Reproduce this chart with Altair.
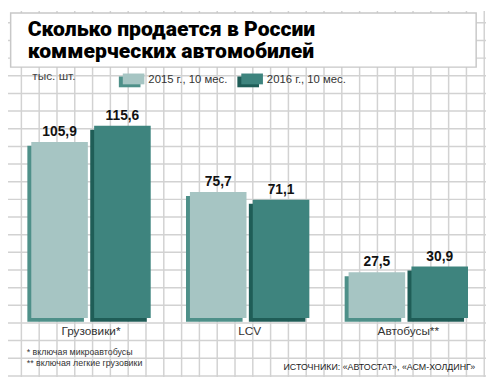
import altair as alt
import pandas as pd

# ---- data ----
categories = ["Грузовики*", "LCV", "Автобусы**"]
series = ["2015 г., 10 мес.", "2016 г., 10 мес."]
values_2015 = [105.9, 75.7, 27.5]
values_2016 = [115.6, 71.1, 30.9]
title_line1 = "Сколько продается в России"
title_line2 = "коммерческих автомобилей"
unit_label = "тыс. шт."
footnotes = ["* включая микроавтобусы", "** включая легкие грузовики"]
source_text = "ИСТОЧНИКИ: «АВТОСТАТ», «АСМ-ХОЛДИНГ»"
grid_cols = list(range(1, 28))
grid_rows = list(range(1, 22))

face_colors = ["#a6c5c3", "#3e847e"]
shadow_colors = ["#4e9089", "#1f5d57"]

rows = []
for s, vals in zip(series, [values_2015, values_2016]):
    for c, v in zip(categories, vals):
        rows.append({"cat": c, "series": s, "value": v,
                     "label": f"{v:.1f}".replace(".", ",")})
bars = pd.DataFrame(rows)

W, H = 486, 372
narrow = "Liberation Sans Narrow, Liberation Sans, sans-serif"

x_scale = alt.Scale(type="band", domain=categories, paddingInner=0.168, paddingOuter=0.0905, align=0.592)
xo_face = alt.Scale(type="band", domain=series, paddingInner=0.1, paddingOuter=0.1, align=0.5)
xo_shadow = alt.Scale(type="band", domain=series, paddingInner=0.1, paddingOuter=0.1, align=0.1875)
y_scale = alt.Scale(domain=[-35.5, 184.6], nice=False, zero=False)

base = alt.Chart(bars)
one = pd.DataFrame({"a": [0]})

# grid
vgrid = alt.Chart(pd.DataFrame({"k": grid_cols})).mark_rule(color="#d2d2d2", strokeWidth=1.5).encode(
    x=alt.X("k:Q", scale=alt.Scale(domain=[0.2486, 27.099], nice=False, zero=False), axis=None),
    y=alt.value(0), y2=alt.value(H))
hgrid = alt.Chart(pd.DataFrame({"j": grid_rows})).mark_rule(color="#d2d2d2", strokeWidth=1.5).encode(
    y=alt.Y("j:Q", scale=alt.Scale(domain=[0.3343, 21.058], nice=False, zero=False, reverse=True), axis=None),
    x=alt.value(0), x2=alt.value(W))

# title box
box = alt.Chart(one).mark_rect(fill="white", stroke="#c8c8c8", strokeWidth=1.5).encode(
    x=alt.value(2.7), x2=alt.value(476), y=alt.value(2), y2=alt.value(57))
title1 = alt.Chart(one).mark_text(
    text=title_line1, font="Roboto", fontWeight=900, fontSize=21.5,
    align="left", baseline="alphabetic", color="#000").encode(
    x=alt.value(20), y=alt.value(25))
title2 = alt.Chart(one).mark_text(
    text=title_line2, font="Roboto", fontWeight=900, fontSize=21.5,
    align="left", baseline="alphabetic", color="#000").encode(
    x=alt.value(20), y=alt.value(48))

unit = alt.Chart(one).mark_text(
    text=unit_label, font="Liberation Sans", fontSize=12, align="left",
    baseline="alphabetic", color="#444").encode(x=alt.value(24.7), y=alt.value(70))

# legend
leg_df = pd.DataFrame({"series": series})
leg_x = alt.X("series:N", scale=alt.Scale(type="point", domain=series, range=[127.7, 248.2], padding=0), axis=None)
rect_shape = "M-1,-0.5H1V0.5H-1Z"
leg_shadow = alt.Chart(leg_df).mark_point(shape=rect_shape, size=484, filled=True, opacity=1,
                                          strokeWidth=0, xOffset=-4, yOffset=3).encode(
    x=leg_x, y=alt.value(69),
    color=alt.Color("series:N", scale=alt.Scale(domain=series, range=shadow_colors), legend=None))
leg_face = alt.Chart(leg_df).mark_point(shape=rect_shape, size=484, filled=True, opacity=1,
                                        strokeWidth=0).encode(
    x=leg_x, y=alt.value(69),
    color=alt.Color("series:N", scale=alt.Scale(domain=series, range=face_colors), legend=None))
leg_text = alt.Chart(leg_df).mark_text(font=narrow, fontSize=11.5, align="left", baseline="middle",
                                       dx=15, color="#333").encode(
    x=leg_x, y=alt.value(70), text="series:N")

# bars
shadow = base.mark_bar(yOffset=4, y2Offset=4).encode(
    x=alt.X("cat:N", scale=x_scale, axis=None),
    xOffset=alt.XOffset("series:N", scale=xo_shadow),
    y=alt.Y("value:Q", scale=y_scale, axis=None), y2=alt.datum(0),
    color=alt.Color("series:N", scale=alt.Scale(domain=series, range=shadow_colors), legend=None))
face = base.mark_bar().encode(
    x=alt.X("cat:N", scale=x_scale, axis=None),
    xOffset=alt.XOffset("series:N", scale=xo_face),
    y=alt.Y("value:Q", scale=y_scale, axis=None), y2=alt.datum(0),
    color=alt.Color("series:N", scale=alt.Scale(domain=series, range=face_colors), legend=None))
vals = base.mark_text(font="Liberation Sans", fontWeight="bold", fontSize=14, dy=-6,
                      baseline="alphabetic", color="#111").encode(
    x=alt.X("cat:N", scale=x_scale, axis=None, bandPosition=0),
    xOffset=alt.XOffset("series:N", scale=xo_face, bandPosition=0.5),
    y=alt.Y("value:Q", scale=y_scale, axis=None),
    text="label:N")

cat_df = pd.DataFrame({"cat": categories})
cats = alt.Chart(cat_df).mark_text(font=narrow, fontSize=12, baseline="alphabetic", color="#333").encode(
    x=alt.X("cat:N", scale=x_scale, axis=None, bandPosition=0.5), y=alt.value(329), text="cat:N")

notes = alt.Chart(one).mark_text(
    text=footnotes, font=narrow, fontSize=9, lineHeight=11, align="left",
    baseline="alphabetic", color="#333").encode(x=alt.value(19), y=alt.value(350))
src = alt.Chart(one).mark_text(
    text=source_text, font=narrow, fontSize=9, align="right",
    baseline="alphabetic", color="#222").encode(x=alt.value(475), y=alt.value(365))

chart = alt.layer(
    vgrid, hgrid, box, title1, title2, unit, leg_shadow, leg_face, leg_text,
    shadow, face, vals, cats, notes, src
).resolve_scale(
    x="independent", y="independent", xOffset="independent", color="independent"
).properties(
    width=W, height=H, padding=0, autosize="none"
).configure_view(stroke=None)

chart.save("out.html", embed_options={"renderer": "svg", "actions": False})
